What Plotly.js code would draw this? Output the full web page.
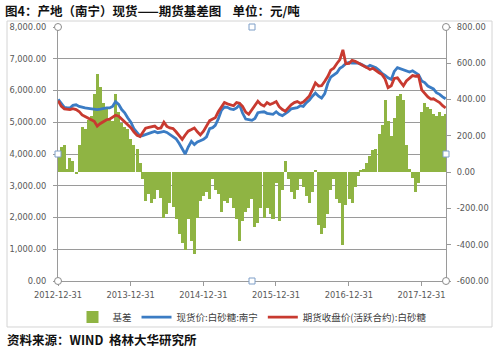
<!DOCTYPE html>
<html>
<head>
<meta charset="utf-8">
<script src="https://cdn.plot.ly/plotly-3.0.1.min.js"></script>
<style>
html,body{margin:0;padding:0;background:#fff;}
#chart{width:500px;height:352px;}
</style>
</head>
<body>
<div id="chart"></div>
<script>
const dates = [
"2013-01-01","2013-01-16","2013-02-01","2013-02-16","2013-03-01","2013-03-16","2013-04-01","2013-04-16","2013-05-01","2013-05-16","2013-06-01","2013-06-16","2013-07-01","2013-07-16","2013-08-01","2013-08-16","2013-09-01","2013-09-16","2013-10-01","2013-10-16","2013-11-01","2013-11-16","2013-12-01","2013-12-16",
"2014-01-01","2014-01-16","2014-02-01","2014-02-16","2014-03-01","2014-03-16","2014-04-01","2014-04-16","2014-05-01","2014-05-16","2014-06-01","2014-06-16","2014-07-01","2014-07-16","2014-08-01","2014-08-16","2014-09-01","2014-09-16","2014-10-01","2014-10-16","2014-11-01","2014-11-16","2014-12-01","2014-12-16",
"2015-01-01","2015-01-16","2015-02-01","2015-02-16","2015-03-01","2015-03-16","2015-04-01","2015-04-16","2015-05-01","2015-05-16","2015-06-01","2015-06-16","2015-07-01","2015-07-16","2015-08-01","2015-08-16","2015-09-01","2015-09-16","2015-10-01","2015-10-16","2015-11-01","2015-11-16","2015-12-01","2015-12-16",
"2016-01-01","2016-01-16","2016-02-01","2016-02-16","2016-03-01","2016-03-16","2016-04-01","2016-04-16","2016-05-01","2016-05-16","2016-06-01","2016-06-16","2016-07-01","2016-07-16","2016-08-01","2016-08-16","2016-09-01","2016-09-16","2016-10-01","2016-10-16","2016-11-01","2016-11-16","2016-12-01","2016-12-16",
"2017-01-01","2017-01-16","2017-02-01","2017-02-16","2017-03-01","2017-03-16","2017-04-01","2017-04-16","2017-05-01","2017-05-16","2017-06-01","2017-06-16","2017-07-01","2017-07-16","2017-08-01","2017-08-16","2017-09-01","2017-09-16","2017-10-01","2017-10-16","2017-11-01","2017-11-16","2017-12-01","2017-12-16",
"2018-01-01","2018-01-16","2018-02-01","2018-02-16","2018-03-01","2018-03-16","2018-04-01","2018-04-16","2018-05-01"
];

// 现货价:白砂糖:南宁 (left axis)
const spotPrice = [
5720,5580,5470,5450,5450,5530,5550,5500,5470,5450,5440,5420,5400,5400,5410,5440,5450,5450,5500,5650,5560,5400,5300,5140,5000,4800,4660,4560,4580,4620,4650,4680,4710,
4670,4690,4710,4680,4620,4560,4480,4330,4150,4000,4220,4400,4300,4380,4420,4460,4540,4800,4830,4900,5100,5380,5480,5470,5420,5400,5450,5550,5290,5100,5080,
5060,5120,5300,5320,5330,5280,5260,5250,5330,5250,5210,5260,5330,5420,5430,5460,5520,5500,5620,5700,5820,5920,5820,5760,5900,6220,6420,6480,6560,6700,6760,
6850,6880,6860,6870,6860,6830,6780,6730,6790,6760,6720,6640,6540,6480,6400,6350,6600,6720,6680,6660,6620,6580,6620,6560,6500,6300,6250,6140,6080,6050,5930,5880,5800,5740
];

// 期货收盘价(活跃合约):白砂糖 (left axis)
const futuresPrice = [
5680,5510,5420,5400,5400,5430,5400,5340,5230,5180,5140,5080,5030,4880,4960,5030,5080,5100,5150,5220,5190,5100,5040,4930,4830,4700,4590,4550,4660,4810,4840,4860,4880,
4800,4820,5000,4870,4820,4800,4700,4560,4460,4600,4720,4770,4820,4700,4600,4720,4900,5050,5100,5140,5330,5480,5620,5580,5560,5520,5620,5600,5500,5320,5250,
5400,5500,5660,5560,5510,5620,5560,5600,5650,5490,5400,5350,5450,5550,5620,5650,5600,5640,5730,5830,6030,6240,6140,6150,6290,6440,6640,6700,6850,6970,7280,
6840,6850,6950,6920,6860,6820,6770,6720,6660,6700,6620,6560,6500,6360,6090,6150,6380,6400,6270,6150,6300,6380,6470,6450,6470,6020,5900,5800,5730,5740,5680,5620,5520,5450
];

// 基差 (right axis)
const basis = [
90,140,150,20,80,60,-10,150,250,240,290,310,430,540,470,380,360,300,280,430,330,270,250,240,180,150,130,50,-40,-160,-120,-170,-150,
-100,-140,-250,-230,-170,-190,-260,-340,-390,-430,-260,-380,-450,-250,-160,-130,-110,-150,-40,-100,-120,-220,-160,-170,-140,-200,-260,-380,-270,-220,-200,
-150,-300,-280,-200,-250,-200,-230,-260,-60,-270,-100,60,-40,-110,-150,-100,-40,-80,-130,-170,-110,10,-290,-340,-310,-230,-100,-40,-150,-170,-400,
-180,-150,-170,-80,-20,10,20,50,90,120,130,210,260,400,280,200,300,420,430,400,150,20,-30,-110,-60,330,380,360,350,320,310,330,310,320
];

const xTickVals = ["2012-12-31","2013-12-31","2014-12-31","2015-12-31","2016-12-31","2017-12-31"];
const xTickText = ["2012-12-31","2013-12-31","2014-12-31","2015-12-31","2016-12-31","2017-12-31"];
const leftTickVals = [0,1000,2000,3000,4000,5000,6000,7000,8000];
const leftTickText = ["0.00","1,000.00","2,000.00","3,000.00","4,000.00","5,000.00","6,000.00","7,000.00","8,000.00"];
const rightTickVals = [-600,-400,-200,0,200,400,600,800];
const rightTickText = ["-600.00","-400.00","-200.00","0.00","200.00","400.00","600.00","800.00"];

const seriesNames = ["基差","现货价:白砂糖:南宁","期货收盘价(活跃合约):白砂糖"];

const tickFont = {family:"DejaVu Sans, Verdana, sans-serif", size:8.3, color:"#595959"};
const axisColor = "#9a9a9a";

const traces = [
  {type:"bar", x:dates, y:basis, name:seriesNames[0], xaxis:"x", yaxis:"y",
   marker:{color:"#8fb443", line:{width:0}}, width:15.2*86400000},
  {type:"scatter", mode:"lines", x:dates, y:spotPrice, name:seriesNames[1], xaxis:"x", yaxis:"y2",
   line:{color:"#3b7cc4", width:2.8}},
  {type:"scatter", mode:"lines", x:dates, y:futuresPrice, name:seriesNames[2], xaxis:"x", yaxis:"y2",
   line:{color:"#c83a30", width:2.8}}
];

function handleCircle(px, py){
  return {type:"circle", xref:"paper", yref:"paper", xsizemode:"pixel", ysizemode:"pixel",
    xanchor:px, yanchor:py, x0:-3.5, x1:3.5, y0:-3.5, y1:3.5,
    line:{color:"#8c8c8c", width:1}, fillcolor:"#ffffff"};
}
function handleSquare(px, py){
  return {type:"rect", xref:"paper", yref:"paper", xsizemode:"pixel", ysizemode:"pixel",
    xanchor:px, yanchor:py, x0:-3, x1:3, y0:-3, y1:3,
    line:{color:"#7f9fc8", width:1}, fillcolor:"#ffffff"};
}

const layout = {
  width:500, height:352,
  margin:{l:58, r:54, t:27, b:71, pad:0},
  paper_bgcolor:"#ffffff", plot_bgcolor:"#ffffff",
  showlegend:true,
  bargap:0,
  title:{text:"<b>图4：产地（南宁）现货——期货基差图    单位：元/吨</b>",
    font:{family:"Noto Sans CJK SC, sans-serif", size:12.5, color:"#111111"},
    xref:"container", yref:"container", x:0.01, xanchor:"left", y:0.968, yanchor:"middle"},
  xaxis:{type:"date", range:["2012-12-31","2018-05-03"], tickmode:"array",
    tickvals:xTickVals, ticktext:xTickText, ticks:"outside", ticklen:4, tickcolor:axisColor,
    showline:true, linecolor:axisColor, linewidth:1, showgrid:false, zeroline:false,
    tickfont:tickFont, ticklabelstandoff:2, fixedrange:true},
  yaxis:{side:"right", range:[-600,800], tickmode:"array", tickvals:rightTickVals, ticktext:rightTickText,
    ticks:"outside", ticklen:4, tickcolor:axisColor, showline:true, linecolor:axisColor, linewidth:1,
    showgrid:false, zeroline:false, tickfont:tickFont, ticklabelstandoff:4},
  yaxis2:{side:"left", overlaying:"y", range:[0,8000], tickmode:"array", tickvals:leftTickVals, ticktext:leftTickText,
    ticks:"outside", ticklen:4, tickcolor:axisColor, showline:true, linecolor:axisColor, linewidth:1,
    showgrid:true, gridcolor:axisColor, gridwidth:1, zeroline:false, tickfont:tickFont, ticklabelstandoff:5},
  legend:{orientation:"h", x:0.5, xanchor:"center", y:-0.085, yanchor:"top",
    font:{family:"Noto Sans CJK SC, sans-serif", size:9.5, color:"#404040"},
    itemwidth:30, tracegroupgap:0, bgcolor:"rgba(0,0,0,0)"},
  annotations:[
    {text:"<b>资料来源：WIND  格林大华研究所</b>", xref:"paper", yref:"paper",
     x:-0.137, y:-0.232, xanchor:"left", yanchor:"middle", showarrow:false,
     font:{family:"Noto Sans CJK SC, sans-serif", size:12.5, color:"#111111"}}
  ],
  shapes:[
    {type:"rect", xref:"paper", yref:"paper", x0:-0.1314, x1:1.1186, y0:-0.1811, y1:1.0236,
     line:{color:"#d4d4d4", width:1}, fillcolor:"rgba(0,0,0,0)", layer:"below"},
    handleCircle(0,1), handleCircle(1,1), handleCircle(0,0), handleCircle(1,0),
    handleSquare(0.5,1), handleSquare(0,0.5), handleSquare(1,0.5), handleSquare(0.5,0)
  ]
};

Plotly.newPlot("chart", traces, layout, {displayModeBar:false, staticPlot:true});
</script>
</body>
</html>
